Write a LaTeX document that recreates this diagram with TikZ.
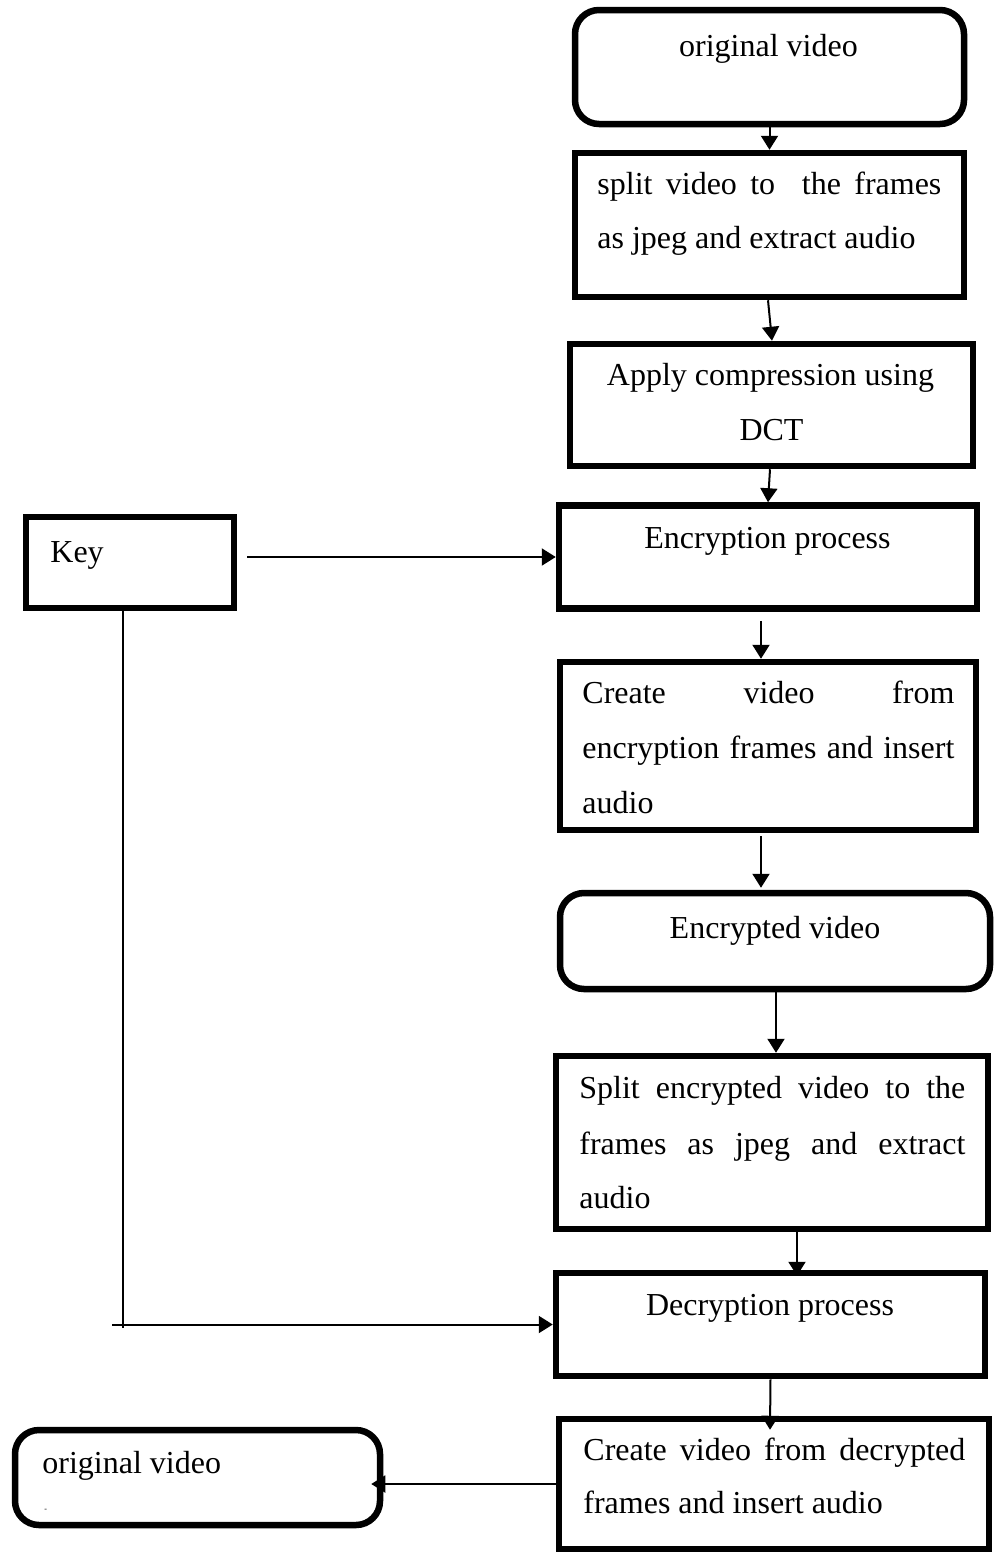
\documentclass[tikz,border=0pt]{standalone}
\usepackage{fontspec}
\setmainfont{Liberation Serif}
\usetikzlibrary{arrows.meta}
\begin{document}
\begin{tikzpicture}[x=0.5pt,y=-0.5pt,
  box/.style={draw, line width=3.25pt, rectangle, fill=white, inner sep=0pt},
  rbox/.style={box, rounded corners=12pt},
  txt/.style={inner sep=0pt, font=\fontsize{16}{19}\selectfont},
  link/.style={line width=1pt},
  thinlink/.style={line width=0.75pt},
  arr/.style={link, -{Triangle[length=7pt,width=8.5pt]}},
]
\useasboundingbox (0,0) rectangle (997,1553);

% process boxes
\node[rbox, minimum width=194.5pt, minimum height=57pt]   (b1)  at (769.5,67)    {};
\node[box,  minimum width=194.5pt, minimum height=72pt]   (b2)  at (769.5,225)   {};
\node[box,  minimum width=201.5pt, minimum height=61pt]   (b3)  at (771.5,405)   {};
\node[box,  minimum width=209pt,   minimum height=51.5pt] (b4)  at (768,557)     {};
\node[box,  minimum width=104pt,   minimum height=45.5pt] (key) at (130,562.5)   {};
\node[box,  minimum width=208pt,   minimum height=84pt]   (b5)  at (768,746)     {};
\node[rbox, minimum width=215pt,   minimum height=48pt]   (b6)  at (775,941)     {};
\node[box,  minimum width=216pt,   minimum height=86.5pt] (b7)  at (772,1142.5)  {};
\node[box,  minimum width=214.5pt, minimum height=51.5pt] (b8)  at (770.5,1324.5){};
\node[box,  minimum width=215pt,   minimum height=65pt]   (b9)  at (774,1484)    {};
\node[rbox, minimum width=182.5pt, minimum height=47.5pt] (b10) at (197.5,1477.5){};

% labels
\node[txt, anchor=base] (t1) at (768.5,56) {original video};
\node[txt, anchor=base west] (t2a) at (597,194) {\makebox[172pt][s]{split video to\ \ the frames}};
\node[txt, anchor=base west] (t2b) at (597,248) {as jpeg and extract audio};
\node[txt, anchor=base] (t3a) at (770.5,385) {Apply compression using};
\node[txt, anchor=base] (t3b) at (771.5,440) {DCT};
\node[txt, anchor=base] (t4) at (767.5,548) {Encryption process};
\node[txt, anchor=base west] (tk) at (50,562) {Key};
\node[txt, anchor=base west] (t5a) at (582,703) {\makebox[186pt][s]{Create video from}};
\node[txt, anchor=base west] (t5b) at (582,758) {\makebox[186pt][s]{encryption frames and insert}};
\node[txt, anchor=base west] (t5c) at (582,813) {audio};
\node[txt, anchor=base] (t6) at (775,938) {Encrypted video};
\node[txt, anchor=base west] (t7a) at (579,1098) {\makebox[193pt][s]{Split encrypted video to the}};
\node[txt, anchor=base west] (t7b) at (579,1154) {\makebox[193pt][s]{frames as jpeg and extract}};
\node[txt, anchor=base west] (t7c) at (579,1208) {audio};
\node[txt, anchor=base] (t8) at (770,1315) {Decryption process};
\node[txt, anchor=base west] (t9a) at (583,1460) {\makebox[191pt][s]{Create video from decrypted}};
\node[txt, anchor=base west] (t9b) at (583,1513) {frames and insert audio};
\node[txt, anchor=base west] (t10) at (42,1473) {original video};
\node[inner sep=0pt, font=\fontsize{4}{4}\selectfont, anchor=base west] (t10dot) at (44,1511) {-};

% flow connectors
\draw[arr] (b1.south) -- (b2.north);
\draw[arr] ([xshift=-0.75pt]b2.south) -- ([xshift=0.25pt]b3.north);
\draw[arr] ([xshift=-0.75pt]b3.south) -- (b4.north);
\draw[arr] ([xshift=-3.5pt,yshift=-4.5pt]b4.south) -- ([xshift=-3.5pt]b5.north);
\draw[arr] ([xshift=-3.5pt,yshift=-1.5pt]b5.south) -- ([xshift=-7pt,yshift=1pt]b6.north);
\draw[arr] ([xshift=0.5pt]b6.south) -- ([xshift=2pt]b7.north);
\draw[arr] ([xshift=12.5pt]b7.south) -- ([xshift=13.25pt,yshift=-3pt]b8.north);
\draw[arr] (b8.south) -- ([xshift=-2pt,yshift=-7pt]b9.north);
\draw[arr] (b9.west) -- ([xshift=-6pt]b9.west -| b10.east);

% key connectors
\coordinate (kdown) at (123,1328);
\coordinate (kturn) at (112,1324.5);
\draw[arr] ([xshift=5pt]key.east |- b4.west) -- (b4.west);
\draw[thinlink] ([xshift=-3.5pt]key.south) -- (kdown);
\draw[arr] (kturn) -- (kturn -| b8.west);
\end{tikzpicture}
\end{document}
